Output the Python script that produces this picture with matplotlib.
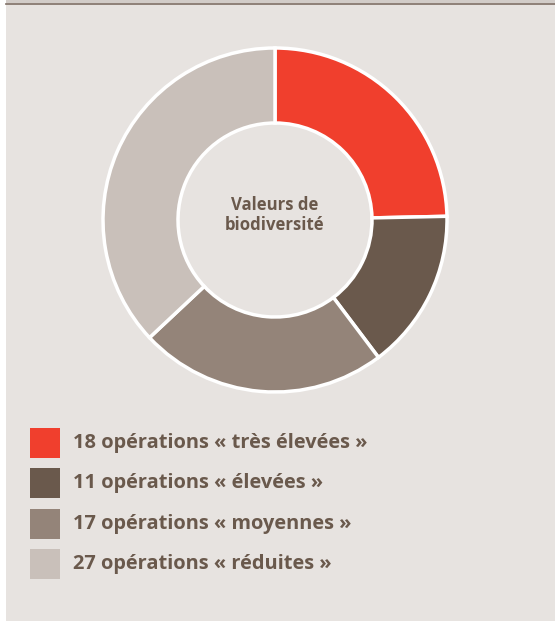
import matplotlib
matplotlib.use("Agg")
import matplotlib.pyplot as plt
from matplotlib.patches import Rectangle
from matplotlib.lines import Line2D

categories = ["très élevées", "élevées", "moyennes", "réduites"]
values = [18, 11, 17, 27]
colors = ["#f03f2d", "#6a594c", "#948479", "#c9c0ba"]
center_label = "Valeurs de\nbiodiversité"

BG = "#e7e3e0"
TXT = "#6a594c"
W, H = 555, 621

fig = plt.figure(figsize=(W / 100, H / 100), dpi=100)
fig.patch.set_facecolor("white")

# panel background
fig.patches.append(Rectangle((6 / W, 0), 1 - 6 / W, (H - 5) / H, transform=fig.transFigure,
                             facecolor=BG, edgecolor="none", zorder=-2))
fig.patches.append(Rectangle((6 / W, (H - 3) / H), 1 - 6 / W, 3 / H, transform=fig.transFigure,
                             facecolor="#d2ccc8", edgecolor="none", zorder=-2))
fig.lines.append(Line2D([6 / W, 1], [(H - 4) / H, (H - 4) / H], transform=fig.transFigure,
                        color="#7a6a60", linewidth=1.2, zorder=-1))

# donut
cx, cy, r = 275, 220, 172
ax = fig.add_axes([(cx - r) / W, (H - cy - r) / H, 2 * r / W, 2 * r / H])
ax.set_zorder(5)
ax.set_facecolor("none")
ax.pie(values, colors=colors, startangle=90, counterclock=False, radius=1,
       wedgeprops=dict(width=75 / 172, edgecolor="white", linewidth=2.5))
ax.set_xlim(-1, 1)
ax.set_ylim(-1, 1)
ax.set_aspect("equal")
ax.axis("off")
ax.text(0, 5 / 172, center_label, ha="center", va="center", color=TXT,
        fontsize=12.1, fontweight="bold", family="Open Sans", linespacing=1.1)

# legend
y0 = 428
dy = 40.4
for i, (cat, v, c) in enumerate(zip(categories, values, colors)):
    top = y0 + i * dy
    fig.patches.append(Rectangle((30 / W, (H - top - 30) / H), 30 / W, 30 / H,
                                 transform=fig.transFigure, facecolor=c, edgecolor="none", zorder=1))
    fig.text(73 / W, (H - top - 15) / H, f"{v} opérations « {cat} »", ha="left", va="center",
             color=TXT, fontsize=14.4, fontweight="bold", family="Open Sans")

fig.savefig("out.png", dpi=100, facecolor=fig.get_facecolor())
